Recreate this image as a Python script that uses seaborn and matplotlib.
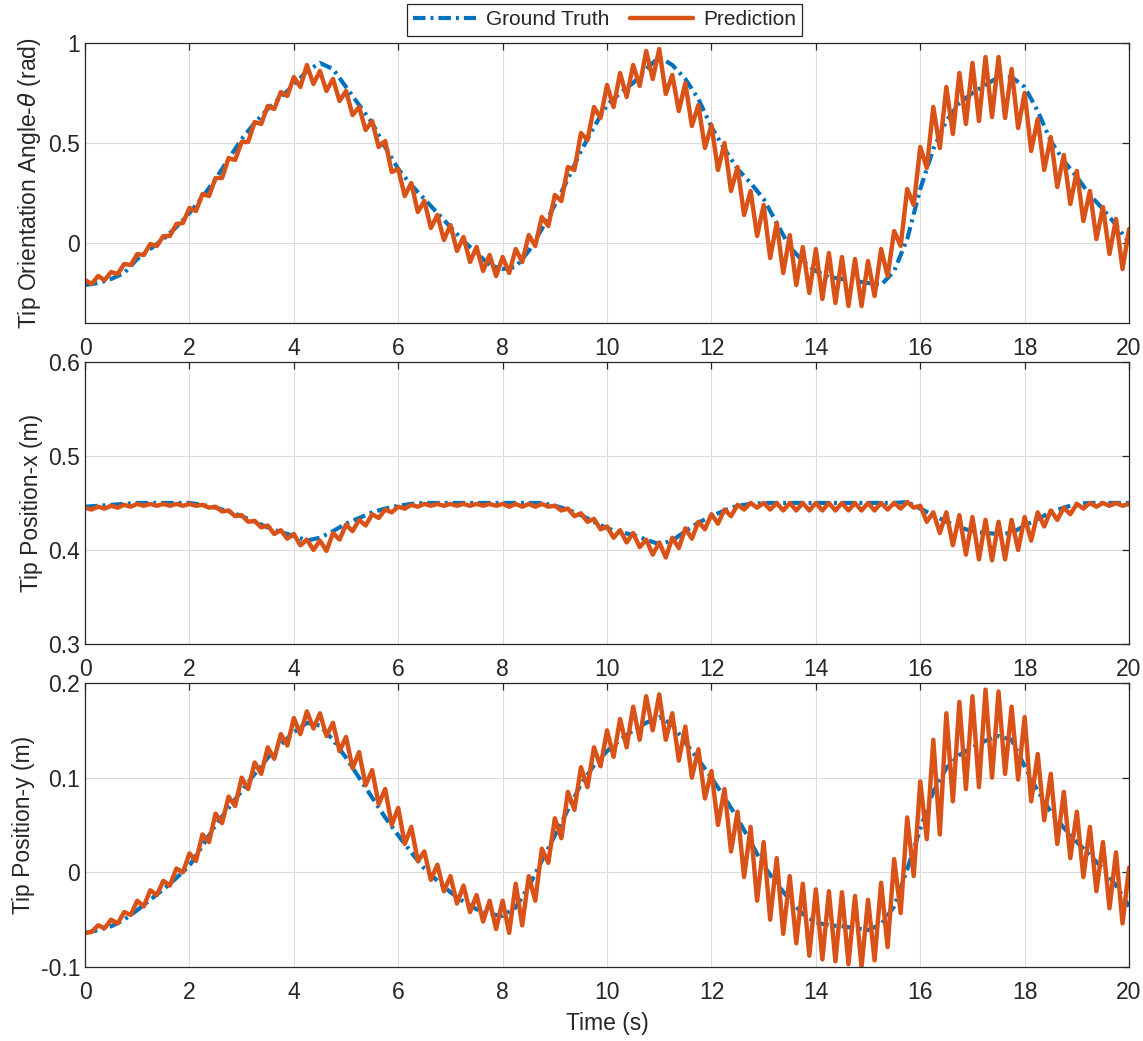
import numpy as np
import pandas as pd
import matplotlib
matplotlib.use("Agg")
import matplotlib.pyplot as plt
import seaborn as sns

# values, GT every 0.25 s, prediction every 0.125 s
t_gt = np.linspace(0, 20, 81)
t_pred = np.linspace(0, 20, 161)

theta_gt = [-0.21, -0.20, -0.18, -0.15, -0.08, -0.03, 0.02, 0.08,
            0.15, 0.23, 0.32, 0.42, 0.52, 0.60, 0.67, 0.73,
            0.79, 0.86, 0.90, 0.87, 0.78, 0.69, 0.60, 0.48,
            0.37, 0.29, 0.22, 0.15, 0.08, 0.01, -0.05, -0.11,
            -0.13, -0.12, -0.04, 0.07, 0.19, 0.32, 0.46, 0.58,
            0.69, 0.75, 0.80, 0.87, 0.93, 0.89, 0.82, 0.72,
            0.58, 0.47, 0.37, 0.30, 0.22, 0.10, -0.02, -0.09,
            -0.14, -0.17, -0.18, -0.19, -0.20, -0.21, -0.14, 0.02,
            0.27, 0.47, 0.61, 0.70, 0.75, 0.79, 0.83, 0.83,
            0.78, 0.66, 0.51, 0.41, 0.33, 0.24, 0.17, 0.09,
            0.00]

theta_pred = [-0.185, -0.205, -0.165, -0.185, -0.145, -0.155, -0.105, -0.11,
              -0.055, -0.06, -0.005, -0.015, 0.035, 0.035, 0.095, 0.10,
              0.175, 0.16, 0.245, 0.235, 0.325, 0.325, 0.425, 0.415,
              0.505, 0.505, 0.605, 0.595, 0.685, 0.67, 0.755, 0.735,
              0.83, 0.78, 0.89, 0.795, 0.86, 0.76, 0.82, 0.71,
              0.76, 0.64, 0.68, 0.565, 0.61, 0.48, 0.51, 0.355,
              0.37, 0.235, 0.30, 0.155, 0.21, 0.075, 0.14, 0.015,
              0.09, -0.04, 0.03, -0.095, -0.02, -0.14, -0.06, -0.165,
              -0.07, -0.15, -0.03, -0.095, 0.04, -0.015, 0.13, 0.085,
              0.24, 0.21, 0.38, 0.365, 0.55, 0.515, 0.68, 0.625,
              0.79, 0.68, 0.85, 0.73, 0.89, 0.785, 0.96, 0.82,
              0.97, 0.745, 0.84, 0.66, 0.80, 0.585, 0.69, 0.475,
              0.59, 0.365, 0.50, 0.26, 0.38, 0.14, 0.26, 0.035,
              0.19, -0.075, 0.10, -0.15, 0.04, -0.21, -0.02, -0.25,
              -0.03, -0.28, -0.05, -0.30, -0.07, -0.315, -0.08, -0.315,
              -0.09, -0.265, -0.03, -0.165, 0.06, -0.015, 0.27, 0.19,
              0.48, 0.375, 0.68, 0.475, 0.78, 0.545, 0.85, 0.595,
              0.90, 0.61, 0.93, 0.63, 0.93, 0.625, 0.87, 0.575,
              0.75, 0.46, 0.62, 0.365, 0.53, 0.28, 0.44, 0.195,
              0.36, 0.11, 0.26, 0.02, 0.18, -0.055, 0.12, -0.13,
              0.07]

posx_gt = [0.446, 0.447, 0.448, 0.449, 0.450, 0.450, 0.450, 0.450,
           0.450, 0.448, 0.445, 0.441, 0.436, 0.430, 0.424, 0.419,
           0.415, 0.410, 0.413, 0.420, 0.428, 0.434, 0.440, 0.444,
           0.447, 0.449, 0.450, 0.450, 0.450, 0.450, 0.450, 0.450,
           0.450, 0.450, 0.450, 0.450, 0.447, 0.443, 0.437, 0.430,
           0.423, 0.419, 0.416, 0.411, 0.406, 0.410, 0.420, 0.429,
           0.436, 0.442, 0.447, 0.449, 0.450, 0.450, 0.450, 0.450,
           0.450, 0.450, 0.450, 0.450, 0.450, 0.450, 0.450, 0.451,
           0.444, 0.437, 0.430, 0.424, 0.420, 0.418, 0.417, 0.418,
           0.426, 0.433, 0.440, 0.445, 0.449, 0.450, 0.450, 0.450,
           0.450]

posx_pred = [0.445, 0.443, 0.446, 0.444, 0.447, 0.445, 0.448, 0.446,
             0.449, 0.447, 0.449, 0.447, 0.449, 0.447, 0.449, 0.447,
             0.449, 0.447, 0.448, 0.445, 0.446, 0.441, 0.442, 0.436,
             0.437, 0.430, 0.431, 0.424, 0.426, 0.417, 0.421, 0.412,
             0.417, 0.405, 0.411, 0.400, 0.410, 0.399, 0.418, 0.411,
             0.427, 0.420, 0.432, 0.426, 0.438, 0.434, 0.443, 0.440,
             0.446, 0.444, 0.448, 0.446, 0.449, 0.447, 0.449, 0.447,
             0.449, 0.447, 0.449, 0.447, 0.449, 0.447, 0.449, 0.447,
             0.449, 0.446, 0.449, 0.446, 0.449, 0.446, 0.449, 0.446,
             0.447, 0.442, 0.444, 0.436, 0.439, 0.430, 0.433, 0.422,
             0.425, 0.413, 0.421, 0.408, 0.418, 0.403, 0.411, 0.395,
             0.408, 0.392, 0.413, 0.402, 0.423, 0.412, 0.430, 0.422,
             0.438, 0.428, 0.443, 0.436, 0.448, 0.443, 0.450, 0.445,
             0.450, 0.443, 0.450, 0.442, 0.450, 0.442, 0.450, 0.442,
             0.450, 0.442, 0.450, 0.442, 0.450, 0.442, 0.450, 0.442,
             0.450, 0.442, 0.450, 0.443, 0.450, 0.444, 0.451, 0.445,
             0.447, 0.430, 0.440, 0.418, 0.440, 0.405, 0.437, 0.395,
             0.435, 0.390, 0.432, 0.389, 0.430, 0.390, 0.432, 0.400,
             0.435, 0.410, 0.440, 0.425, 0.442, 0.432, 0.445, 0.438,
             0.449, 0.444, 0.450, 0.446, 0.450, 0.447, 0.450, 0.447,
             0.449]

posy_gt = [-0.064, -0.061, -0.057, -0.050, -0.040, -0.029, -0.018, -0.006,
           0.007, 0.028, 0.050, 0.068, 0.086, 0.104, 0.121, 0.135,
           0.148, 0.158, 0.155, 0.140, 0.121, 0.100, 0.079, 0.058,
           0.039, 0.021, 0.004, -0.009, -0.021, -0.031, -0.039, -0.044,
           -0.046, -0.037, -0.015, 0.012, 0.039, 0.066, 0.093, 0.113,
           0.128, 0.140, 0.150, 0.158, 0.164, 0.156, 0.137, 0.119,
           0.100, 0.079, 0.057, 0.032, 0.007, -0.012, -0.029, -0.044,
           -0.053, -0.056, -0.057, -0.059, -0.061, -0.055, -0.036, 0.003,
           0.046, 0.085, 0.110, 0.124, 0.132, 0.139, 0.144, 0.140,
           0.112, 0.086, 0.064, 0.047, 0.032, 0.018, 0.004, -0.014,
           -0.036]

posy_pred = [-0.064, -0.063, -0.056, -0.059, -0.050, -0.054, -0.042, -0.045,
             -0.030, -0.036, -0.019, -0.024, -0.009, -0.014, 0.004, 0.000,
             0.020, 0.012, 0.040, 0.032, 0.062, 0.052, 0.080, 0.070,
             0.100, 0.088, 0.116, 0.104, 0.132, 0.120, 0.146, 0.134,
             0.163, 0.146, 0.170, 0.152, 0.168, 0.144, 0.158, 0.128,
             0.143, 0.110, 0.127, 0.092, 0.108, 0.072, 0.088, 0.050,
             0.068, 0.030, 0.048, 0.012, 0.022, -0.008, 0.008, -0.020,
             -0.004, -0.033, -0.014, -0.042, -0.024, -0.052, -0.030, -0.060,
             -0.030, -0.064, -0.012, -0.056, -0.004, -0.030, 0.025, 0.010,
             0.057, 0.036, 0.085, 0.066, 0.111, 0.090, 0.132, 0.112,
             0.150, 0.122, 0.162, 0.132, 0.175, 0.140, 0.186, 0.150,
             0.188, 0.140, 0.168, 0.118, 0.154, 0.100, 0.130, 0.078,
             0.107, 0.050, 0.088, 0.022, 0.064, -0.005, 0.048, -0.030,
             0.032, -0.050, 0.015, -0.065, -0.004, -0.075, -0.012, -0.088,
             -0.018, -0.092, -0.020, -0.094, -0.021, -0.097, -0.025, -0.100,
             -0.029, -0.093, -0.011, -0.079, 0.014, -0.043, 0.058, -0.004,
             0.096, 0.035, 0.140, 0.040, 0.168, 0.075, 0.180, 0.088,
             0.186, 0.090, 0.193, 0.100, 0.191, 0.104, 0.175, 0.098,
             0.164, 0.075, 0.125, 0.055, 0.104, 0.030, 0.085, 0.015,
             0.064, -0.005, 0.048, -0.020, 0.032, -0.038, 0.021, -0.054,
             0.005]

panels = [
    ("Tip Orientation Angle-$\\theta$ (rad)", theta_gt, theta_pred,
     (-0.4, 1.0), [0, 0.5, 1], ["0", "0.5", "1"]),
    ("Tip Position-x (m)", posx_gt, posx_pred,
     (0.3, 0.6), [0.3, 0.4, 0.5, 0.6], ["0.3", "0.4", "0.5", "0.6"]),
    ("Tip Position-y (m)", posy_gt, posy_pred,
     (-0.1, 0.2), [-0.1, 0, 0.1, 0.2], ["-0.1", "0", "0.1", "0.2"]),
]

sns.set_style("white")
plt.rcParams["font.family"] = ["Liberation Sans", "DejaVu Sans"]
plt.rcParams["mathtext.fontset"] = "dejavusans"
plt.rcParams["lines.dashdot_pattern"] = [3.0, 1.2, 0.7, 1.2]

blue = "#0072BD"
orange = "#D95319"
fs = 16.5

fig = plt.figure(figsize=(11.43, 10.41), dpi=100)
boxes = [[0.0744, 0.6897, 0.9134, 0.2690],
         [0.0744, 0.3814, 0.9134, 0.2709],
         [0.0744, 0.0711, 0.9134, 0.2728]]

axes = []
for box, (ylabel, gt, pred, ylim, yt, ytl) in zip(boxes, panels):
    ax = fig.add_axes(box)
    gt_df = pd.DataFrame({"t": t_gt, "v": gt})
    pr_df = pd.DataFrame({"t": t_pred, "v": pred})
    sns.lineplot(data=gt_df, x="t", y="v", ax=ax, color=blue, linewidth=3.0,
                 linestyle="-.", label="Ground Truth", legend=False, sort=False)
    sns.lineplot(data=pr_df, x="t", y="v", ax=ax, color=orange, linewidth=3.2,
                 label="Prediction", legend=False, sort=False,
                 solid_joinstyle="round")
    ax.set_xlim(0, 20)
    ax.set_ylim(*ylim)
    ax.set_xticks(range(0, 21, 2))
    ax.set_xticklabels([str(v) for v in range(0, 21, 2)])
    ax.set_yticks(yt)
    ax.set_yticklabels(ytl)
    ax.set_xlabel("")
    ax.set_ylabel(ylabel, fontsize=fs, color="#262626", labelpad=4)
    ax.grid(True, color="#dcdcdc", linewidth=0.8)
    ax.tick_params(direction="in", top=True, right=True, length=5,
                   labelsize=fs, colors="#262626", width=0.9)
    ax.tick_params(axis="x", pad=10)
    for s in ax.spines.values():
        s.set_color("#262626")
        s.set_linewidth(0.9)
    axes.append(ax)

axes[-1].set_xlabel("Time (s)", fontsize=fs, color="#262626", labelpad=6)
fig.align_ylabels(axes)

handles, labels = axes[0].get_legend_handles_labels()
leg = fig.legend(handles, labels, loc="upper center", ncol=2,
                 bbox_to_anchor=(0.529, 0.999), fontsize=15,
                 frameon=True, fancybox=False, edgecolor="#262626",
                 framealpha=1, handlelength=3.0, borderpad=0.3,
                 columnspacing=1.0, handletextpad=0.5, borderaxespad=0.15)
leg.get_frame().set_linewidth(0.9)

fig.savefig("out.png", dpi=100)
